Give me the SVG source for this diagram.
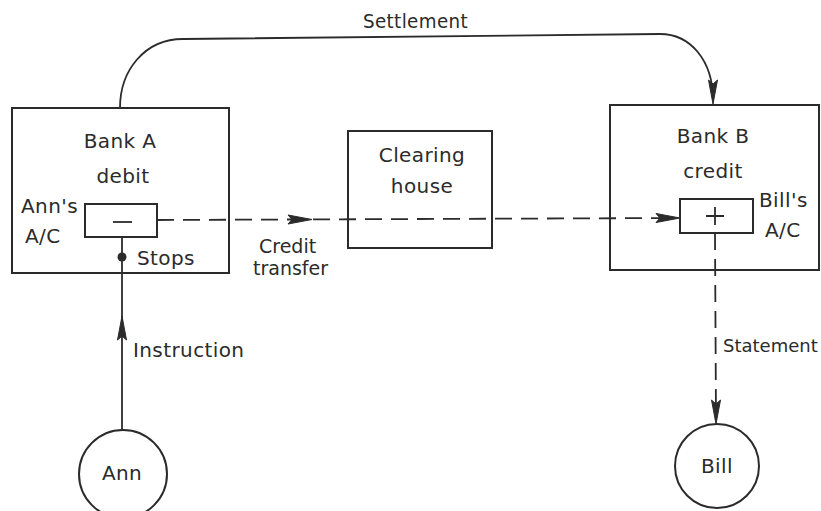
<svg xmlns="http://www.w3.org/2000/svg" width="821" height="511" viewBox="0 0 821 511">
  <style>
    .box { fill: none; stroke: #2b2b2b; stroke-width: 2; }
    .line { fill: none; stroke: #2b2b2b; stroke-width: 1.8; }
    .dash { fill: none; stroke: #2b2b2b; stroke-width: 1.8; stroke-dasharray: 17 9; }
    .head { fill: #2b2b2b; stroke: #2b2b2b; stroke-width: 1; stroke-linejoin: round; }
    text { font-family: "DejaVu Sans", "Liberation Sans", sans-serif; font-size: 20px; letter-spacing: 0.4px; fill: #2b2b2b; }
    .small { font-size: 19px; letter-spacing: 0; }
    .mid { text-anchor: middle; }
  </style>
  <defs>
    <!-- slim filled arrowhead, tip at the origin, pointing along +x -->
    <path id="arrow" d="M0,0 L-24,-4.5 L-20,0 L-24,4.5 Z"/>
  </defs>

  <rect width="821" height="511" fill="#ffffff"/>

  <g id="connectors">
    <!-- Settlement: Bank A over the top to Bank B -->
    <path class="line" d="M120,108 C120,70 145,39 183,39 L660,34 C690,34 713,60 713,100"/>
    <use href="#arrow" class="head" transform="translate(713,104) rotate(90)"/>
    <text x="363" y="28" textLength="105" lengthAdjust="spacingAndGlyphs">Settlement</text>

    <!-- Credit transfer: dashed, Ann's A/C through the clearing house to Bill's A/C -->
    <path class="dash" d="M157,220 L678,218"/>
    <use href="#arrow" class="head" transform="translate(312,219.5)"/>
    <use href="#arrow" class="head" transform="translate(680,218)"/>
    <text class="small" x="259" y="253">Credit</text>
    <text class="small" x="253" y="275">transfer</text>

    <!-- Instruction: Ann up to Ann's A/C, stopped at the dot -->
    <path class="line" d="M122,430 L122,237"/>
    <use href="#arrow" class="head" transform="translate(122,316) rotate(-90)"/>
    <circle cx="122" cy="257" r="4.5" fill="#2b2b2b"/>
    <text x="137" y="265">Stops</text>
    <text x="133" y="357">Instruction</text>

    <!-- Statement: dashed, Bill's A/C down to Bill -->
    <path class="dash" d="M715,233 L716,420"/>
    <use href="#arrow" class="head" transform="translate(716,424) rotate(90)"/>
    <text class="small" x="723" y="352" style="font-size:18px">Statement</text>
  </g>

  <g id="bank-a">
    <rect class="box" x="12" y="108" width="217" height="165"/>
    <text class="mid" x="120" y="148">Bank A</text>
    <text class="mid" x="123" y="183">debit</text>
  </g>

  <g id="ann-account">
    <rect class="box" x="85" y="204" width="72" height="33"/>
    <path class="line" d="M113,222 L132,222"/>
    <text x="21" y="213">Ann's</text>
    <text x="25" y="243">A/C</text>
  </g>

  <g id="clearing-house">
    <rect class="box" x="348" y="131" width="144" height="117"/>
    <text class="mid" x="422" y="162">Clearing</text>
    <text class="mid" x="422" y="193">house</text>
  </g>

  <g id="bank-b">
    <rect class="box" x="610" y="105" width="209" height="165"/>
    <text class="mid" x="713" y="143">Bank B</text>
    <text class="mid" x="713" y="178">credit</text>
  </g>

  <g id="bill-account">
    <rect class="box" x="680" y="199" width="73" height="34"/>
    <path class="line" d="M706,216 L724,216 M715,207 L715,225"/>
    <text x="759" y="207">Bill's</text>
    <text x="765" y="237">A/C</text>
  </g>

  <g id="ann">
    <circle class="box" cx="123" cy="474" r="44"/>
    <text class="mid" x="122" y="480">Ann</text>
  </g>

  <g id="bill">
    <circle class="box" cx="717" cy="466" r="42"/>
    <text class="mid" x="717" y="473">Bill</text>
  </g>
</svg>
